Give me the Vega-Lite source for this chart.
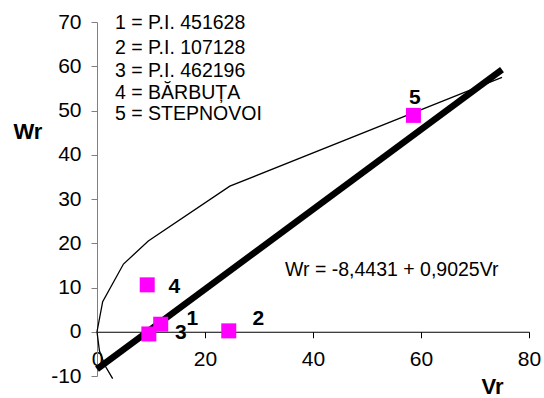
{
  "$schema": "https://vega.github.io/schema/vega-lite/v6.json",
  "width": 432,
  "height": 354,
  "autosize": {"type": "none"},
  "padding": {"left": 97, "top": 22, "right": 15, "bottom": 22},
  "background": "white",
  "config": {"view": {"stroke": null}, "font": "Liberation Sans", "axis": {"grid": false}},
  "datasets": {
    "curve": [
      {"o": 1, "Vr": 2.9, "Wr": -10.6},
      {"o": 2, "Vr": 1.5, "Wr": -7.7},
      {"o": 3, "Vr": 0.45, "Wr": -4.3},
      {"o": 4, "Vr": 0, "Wr": 0},
      {"o": 5, "Vr": 1.05, "Wr": 6.8},
      {"o": 6, "Vr": 4.9, "Wr": 15.3},
      {"o": 7, "Vr": 9.5, "Wr": 20.5},
      {"o": 8, "Vr": 24.6, "Wr": 32.9},
      {"o": 9, "Vr": 75, "Wr": 57.5}
    ],
    "reg": [
      {"Vr": 0, "Wr": -8.4431},
      {"Vr": 75, "Wr": 59.2444}
    ],
    "pts": [
      {"id": "1", "Vr": 11.8, "Wr": 1.7},
      {"id": "2", "Vr": 24.4, "Wr": 0.2},
      {"id": "3", "Vr": 9.6, "Wr": -0.5},
      {"id": "4", "Vr": 9.3, "Wr": 10.6},
      {"id": "5", "Vr": 58.6, "Wr": 48.9}
    ],
    "legend": [
      {"t": "1 = P.I. 451628", "Vr": 3.33, "Wr": 69.7},
      {"t": "2 = P.I. 107128", "Vr": 3.33, "Wr": 64.1},
      {"t": "3 = P.I. 462196", "Vr": 3.33, "Wr": 59.0},
      {"t": "4 = BĂRBUȚA", "Vr": 3.33, "Wr": 54.0},
      {"t": "5 = STEPNOVOI", "Vr": 3.33, "Wr": 49.2}
    ],
    "eq": [
      {"t": "Wr = -8,4431 + 0,9025Vr", "Vr": 34.8, "Wr": 14.0}
    ]
  },
  "layer": [
    {
      "data": {"name": "curve"},
      "mark": {"type": "line", "color": "black", "strokeWidth": 1.3, "clip": false},
      "encoding": {
        "x": {
          "field": "Vr", "type": "quantitative",
          "scale": {"domain": [0, 80], "nice": false, "zero": false},
          "axis": {
            "values": [0, 20, 40, 60, 80], "orient": "bottom", "offset": -44.25,
            "domainColor": "black", "tickColor": "black", "tickSize": 6, "tickWidth": 1,
            "labelFontSize": 21, "labelColor": "black", "labelPadding": 11, "labelFlush": false,
            "labelOverlap": false, "labelExpr": "datum.value + ''",
            "title": "Vr", "titleFontSize": 22, "titleFontWeight": "bold", "titleColor": "black",
            "titleX": 395, "titleY": 55, "titleAlign": "center", "titleBaseline": "middle"
          }
        },
        "y": {
          "field": "Wr", "type": "quantitative",
          "scale": {"domain": [-10, 70], "nice": false, "zero": false},
          "axis": {
            "values": [-10, 0, 10, 20, 30, 40, 50, 60, 70],
            "domainColor": "#808080", "tickColor": "#808080", "tickSize": 6,
            "labelFontSize": 21, "labelColor": "black", "labelPadding": 10,
            "labelOverlap": false, "labelExpr": "datum.value + ''",
            "title": "Wr", "titleFontSize": 22, "titleFontWeight": "bold", "titleColor": "black",
            "titleAngle": 0, "titleX": -84, "titleY": 109, "titleAlign": "left", "titleBaseline": "middle"
          }
        },
        "order": {"field": "o", "type": "quantitative"}
      }
    },
    {
      "data": {"name": "reg"},
      "mark": {"type": "line", "color": "black", "strokeWidth": 6.5, "strokeCap": "butt", "clip": false},
      "encoding": {
        "x": {"field": "Vr", "type": "quantitative"},
        "y": {"field": "Wr", "type": "quantitative"}
      }
    },
    {
      "data": {"name": "pts"},
      "mark": {"type": "square", "filled": true, "color": "#FF00FF", "size": 225, "opacity": 1},
      "encoding": {
        "x": {"field": "Vr", "type": "quantitative"},
        "y": {"field": "Wr", "type": "quantitative"}
      }
    },
    {
      "data": {"name": "pts"},
      "transform": [{"filter": "datum.id == '1'"}],
      "mark": {"type": "text", "fontSize": 21, "fontWeight": "bold", "color": "black", "dx": 31.5, "dy": -5.7, "align": "center", "baseline": "middle"},
      "encoding": {
        "x": {"field": "Vr", "type": "quantitative"},
        "y": {"field": "Wr", "type": "quantitative"},
        "text": {"field": "id", "type": "nominal"}
      }
    },
    {
      "data": {"name": "pts"},
      "transform": [{"filter": "datum.id == '2'"}],
      "mark": {"type": "text", "fontSize": 21, "fontWeight": "bold", "color": "black", "dx": 29.7, "dy": -12.3, "align": "center", "baseline": "middle"},
      "encoding": {
        "x": {"field": "Vr", "type": "quantitative"},
        "y": {"field": "Wr", "type": "quantitative"},
        "text": {"field": "id", "type": "nominal"}
      }
    },
    {
      "data": {"name": "pts"},
      "transform": [{"filter": "datum.id == '3'"}],
      "mark": {"type": "text", "fontSize": 21, "fontWeight": "bold", "color": "black", "dx": 32, "dy": -0.7, "align": "center", "baseline": "middle"},
      "encoding": {
        "x": {"field": "Vr", "type": "quantitative"},
        "y": {"field": "Wr", "type": "quantitative"},
        "text": {"field": "id", "type": "nominal"}
      }
    },
    {
      "data": {"name": "pts"},
      "transform": [{"filter": "datum.id == '4'"}],
      "mark": {"type": "text", "fontSize": 21, "fontWeight": "bold", "color": "black", "dx": 27, "dy": 2, "align": "center", "baseline": "middle"},
      "encoding": {
        "x": {"field": "Vr", "type": "quantitative"},
        "y": {"field": "Wr", "type": "quantitative"},
        "text": {"field": "id", "type": "nominal"}
      }
    },
    {
      "data": {"name": "pts"},
      "transform": [{"filter": "datum.id == '5'"}],
      "mark": {"type": "text", "fontSize": 21, "fontWeight": "bold", "color": "black", "dx": 1.3, "dy": -17.5, "align": "center", "baseline": "middle"},
      "encoding": {
        "x": {"field": "Vr", "type": "quantitative"},
        "y": {"field": "Wr", "type": "quantitative"},
        "text": {"field": "id", "type": "nominal"}
      }
    },
    {
      "data": {"name": "legend"},
      "mark": {"type": "text", "fontSize": 19.5, "color": "black", "align": "left", "baseline": "middle"},
      "encoding": {
        "x": {"field": "Vr", "type": "quantitative"},
        "y": {"field": "Wr", "type": "quantitative"},
        "text": {"field": "t", "type": "nominal"}
      }
    },
    {
      "data": {"name": "eq"},
      "mark": {"type": "text", "fontSize": 19.5, "color": "black", "align": "left", "baseline": "middle"},
      "encoding": {
        "x": {"field": "Vr", "type": "quantitative"},
        "y": {"field": "Wr", "type": "quantitative"},
        "text": {"field": "t", "type": "nominal"}
      }
    }
  ]
}
